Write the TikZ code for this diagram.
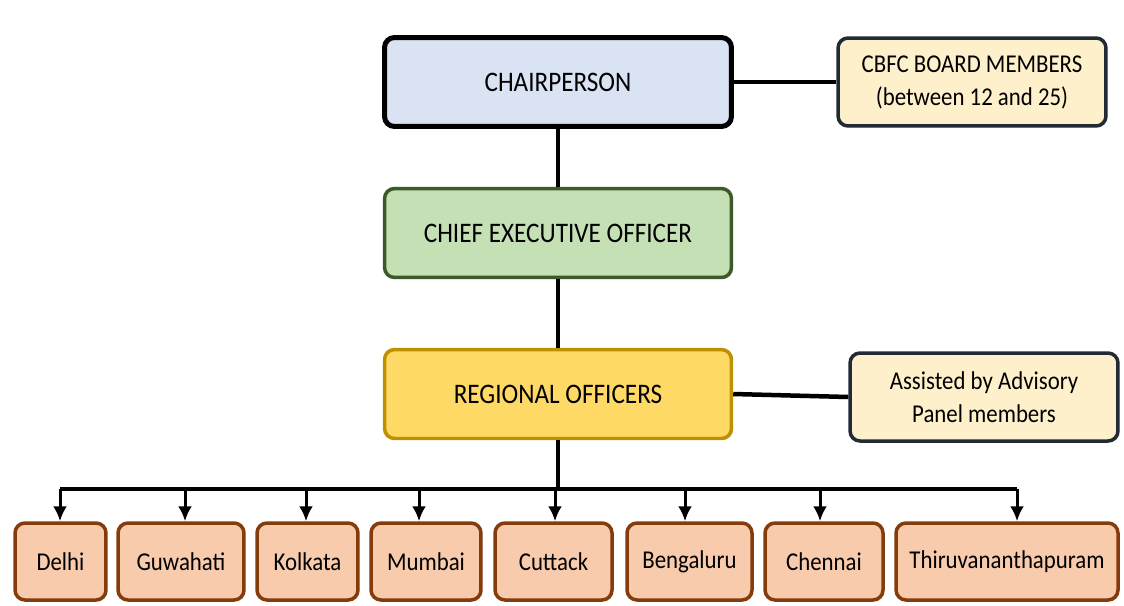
\documentclass[tikz,border=0pt]{standalone}
\usepackage{fontspec}
\setmainfont{Carlito}[FakeStretch=0.89]
\usetikzlibrary{arrows.meta,shadows}
\definecolor{chairfill}{HTML}{DAE3F3}
\definecolor{notefill}{HTML}{FFF0CC}
\definecolor{notedraw}{HTML}{222A35}
\definecolor{ceofill}{HTML}{C5E0B4}
\definecolor{ceodraw}{HTML}{3B5A28}
\definecolor{rofill}{HTML}{FFD966}
\definecolor{rodraw}{HTML}{BF9000}
\definecolor{cityfill}{HTML}{F8CBAD}
\definecolor{citydraw}{HTML}{843C0C}
\begin{document}
\begin{tikzpicture}[x=0.02cm,y=-0.02cm,
	>={Latex[length=0.3cm,width=0.28cm]},
	every node/.style={font=\fontsize{14.6}{18.8}\selectfont},
	box/.style={rectangle,rounded corners=0.2cm,align=center,line width=0.07cm,
		drop shadow={opacity=0.3,shadow xshift=0.03cm,shadow yshift=-0.03cm}},
	bigbox/.style={box,minimum width=6.94cm,minimum height=1.78cm,font=\fontsize{16.1}{18.8}\selectfont},
	notebox/.style={box,fill=notefill,draw=notedraw,minimum width=5.36cm,minimum height=1.76cm},
	citybox/.style={box,fill=cityfill,draw=citydraw,minimum height=1.54cm},
	conn/.style={line width=0.09cm},
	drop/.style={line width=0.06cm,->}]

	\useasboundingbox (0,0) rectangle (1124,605);

	\node[bigbox,fill=chairfill,draw=black,line width=0.1cm] (chair) at (558,82) {CHAIRPERSON};
	\node[notebox] (board) at (972,82) {CBFC BOARD MEMBERS\\(between 12 and 25)};
	\node[bigbox,fill=ceofill,draw=ceodraw] (ceo) at (558,233) {CHIEF EXECUTIVE OFFICER};
	\node[bigbox,fill=rofill,draw=rodraw] (ro) at (558,394) {REGIONAL OFFICERS};
	\node[notebox] (panel) at (984,397) {Assisted by Advisory\\Panel members};

	\draw[conn] (chair) -- (board);
	\draw[conn] (chair) -- (ceo);
	\draw[conn] (ceo) -- (ro);
	\draw[conn] (ro.east) -- (panel.west);

	% regional offices
	\foreach \n/\t/\c/\w/\d in {delhi/Delhi/60.5/1.82/60,
		guwahati/Guwahati/181/2.52/185,
		kolkata/Kolkata/307.5/2.02/306,
		mumbai/Mumbai/426/2.2/419,
		cuttack/Cuttack/553.5/2.34/555,
		bengaluru/Bengaluru/689.5/2.5/685,
		chennai/Chennai/824/2.36/820,
		thiru/Thiruvananthapuram/1007/4.44/1017}{
		\node[citybox,minimum width=\w cm] (\n) at (\c,561.5) {\t};
		\coordinate (b\n) at (\d,489);
		\draw[drop] (b\n) -- (b\n |- \n.north);
	}

	\draw[conn] (bdelhi) -- (bthiru);
	\draw[conn] (ro) -- (ro.south |- bdelhi);

\end{tikzpicture}
\end{document}
